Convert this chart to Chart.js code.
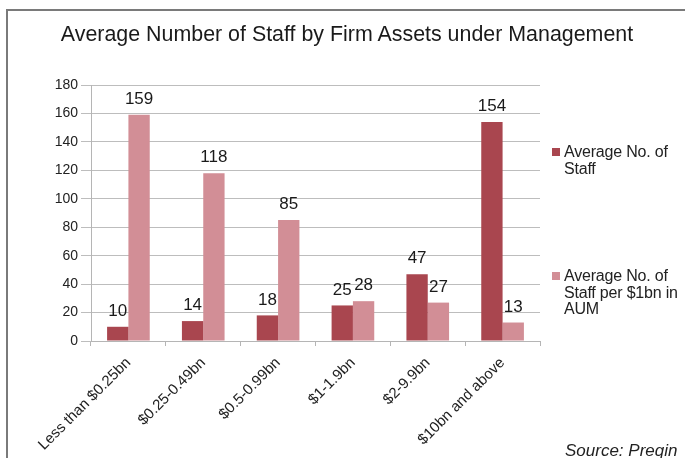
<!DOCTYPE html>
<html>
<head>
<meta charset="utf-8">
<script src="https://cdn.jsdelivr.net/npm/chart.js@4/dist/chart.umd.min.js"></script>
<style>
    html, body { margin: 0; padding: 0; background: #fff; }
    #wrap { position: relative; width: 685px; height: 458px; overflow: hidden; font-family: "Liberation Sans", Arial, sans-serif; }
    #frame { position: absolute; left: 6px; top: 9px; width: 800px; height: 600px; border-left: 2px solid #7a7a7a; border-top: 2px solid #7a7a7a; }
    #title { position: absolute; left: 0; width: 694px; top: 22px; text-align: center; font-size: 21.4px; color: #1a1a1a; }
    .leg { position: absolute; left: 564px; font-size: 16px; line-height: 16.5px; color: #222; letter-spacing: -0.2px; }
    .leg i { position: absolute; left: -12px; top: 4px; width: 8px; height: 8px; }
    #source { position: absolute; left: 565px; top: 441px; font-size: 17px; font-style: italic; color: #222; }
    canvas { position: absolute; left: 0; top: 0; }
</style>
</head>
<body>
<div id="wrap">
    <div id="frame"></div>
    <canvas id="chart" width="685" height="458"></canvas>
    <div id="title">Average Number of Staff by Firm Assets under Management</div>
    <div class="leg" id="leg0" style="top:144px"><i></i><span></span></div>
    <div class="leg" id="leg1" style="top:268px"><i></i><span></span></div>
    <div id="source">Source: Preqin</div>
</div>
<script>
// Datos del gráfico
const categories = ['Less than $0.25bn', '$0.25-0.49bn', '$0.5-0.99bn', '$1-1.9bn', '$2-9.9bn', '$10bn and above'];
const avgStaff = [10, 14, 18, 25, 47, 154];
const staffPer1bn = [159, 118, 85, 28, 27, 13];
const seriesNames = ['Average No. of Staff', 'Average No. of Staff per $1bn in AUM'];
const legendLines = [['Average No. of', 'Staff'], ['Average No. of', 'Staff per $1bn in', 'AUM']];
const colors = ['#a9464f', '#d28e96'];

// Etiquetas de valores encima de las barras
const valueLabels = {
    id: 'valueLabels',
    afterDatasetsDraw(chart) {
        const ctx = chart.ctx;
        ctx.save();
        ctx.font = '17px "Liberation Sans", Arial, sans-serif';
        ctx.fillStyle = '#1a1a1a';
        ctx.textAlign = 'center';
        ctx.textBaseline = 'bottom';
        chart.data.datasets.forEach((ds, i) => {
            chart.getDatasetMeta(i).data.forEach((bar, j) => {
                ctx.fillText(ds.data[j], bar.x, bar.y - 7);
            });
        });
        ctx.restore();
    }
};

new Chart(document.getElementById('chart'), {
    type: 'bar',
    data: {
        labels: categories,
        datasets: [{
            label: seriesNames[0],
            data: avgStaff,
            backgroundColor: colors[0]
        }, {
            label: seriesNames[1],
            data: staffPer1bn,
            backgroundColor: colors[1]
        }]
    },
    options: {
        responsive: false,
        animation: false,
        layout: { padding: { top: 85, right: 145, left: 0, bottom: 0 } },
        plugins: {
            legend: { display: false },
            tooltip: { enabled: false }
        },
        datasets: {
            bar: { barPercentage: 1, categoryPercentage: 0.57 }
        },
        scales: {
            x: {
                grid: { display: true, drawOnChartArea: false, tickLength: 5, color: '#b5b5b5' },
                border: { color: '#b5b5b5' },
                ticks: {
                    maxRotation: 45, minRotation: 45, padding: 8,
                    font: { size: 15, family: '"Liberation Sans", Arial, sans-serif' },
                    color: '#222'
                },
                afterFit: scale => { scale.height = 117; }
            },
            y: {
                min: 0, max: 180,
                ticks: {
                    stepSize: 20, padding: 3,
                    font: { size: 14, family: '"Liberation Sans", Arial, sans-serif' },
                    color: '#222'
                },
                grid: { color: '#bdbdbd', tickLength: 10 },
                border: { color: '#b5b5b5' },
                afterFit: scale => { scale.width = 91; }
            }
        }
    },
    plugins: [valueLabels]
});

// Leyenda en HTML a la derecha
legendLines.forEach((lines, i) => {
    const el = document.getElementById('leg' + i);
    el.querySelector('i').style.background = colors[i];
    el.querySelector('span').innerHTML = lines.join('<br>');
});
</script>
</body>
</html>
